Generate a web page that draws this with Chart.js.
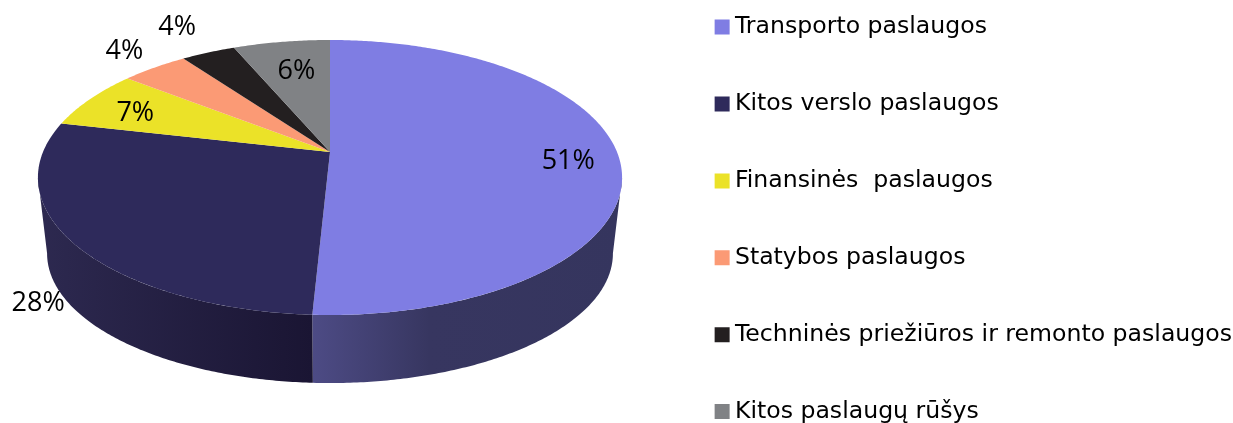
<!DOCTYPE html>
<html>
<head>
<meta charset="utf-8">
<script src="https://cdn.jsdelivr.net/npm/chart.js@4"></script>
<style>
html,body{margin:0;padding:0;background:#fff;overflow:hidden;width:1233px;height:423px}
/* canvas is taller than the window, the last legend row is cut off like in the original */
#myChart{position:absolute;left:0;top:-36px}
</style>
</head>
<body>
<canvas id="myChart" width="1233" height="540"></canvas>
<script>
const categories=['Transporto paslaugos','Kitos verslo paslaugos','Finansinės  paslaugos','Statybos paslaugos','Techninės priežiūros ir remonto paslaugos','Kitos paslaugų rūšys'];
const shares=[50.8,27.8,7.0,4.4,3.6,6.4];
const sliceColors=['#7f7de3','#2e2a5b','#ebe228','#fb9a75','#231f20','#808285'];
// shift of each percent label from the rim point of its slice
const labelShifts=[[-50,6],[-34,61],[45,14],[-30,-16],[-31,-25],[15,29]];

const shiftY=36;
// perspective of the disc: top face and bottom rim
const tilt=-0.1855;
const topFace={cx:330,width:287,a:104.58,b:152};
const bottomRim={cx:330,width:278,a:82.5,b:229.5};
// the side wall is only seen between these two angles
const wallStart=Math.asin(-tilt);
const wallEnd=Math.PI-wallStart;

function project(face,angle,r){
    const u=Math.cos(angle)*r, v=Math.sin(angle)*r;
    const d=1+tilt*v;
    return {x:face.cx+face.width*u/d, y:(face.a*v+face.b)/d+shiftY};
}

function rimPath(ctx,face,a0,a1,first){
    const steps=Math.max(2,Math.ceil(Math.abs(a1-a0)/0.01));
    for(let i=0;i<=steps;i++){
        const p=project(face,a0+(a1-a0)*i/steps,1);
        if(i===0&&first) ctx.moveTo(p.x,p.y); else ctx.lineTo(p.x,p.y);
    }
}

function wallFill(ctx,index){
    if(index===0){
        const g=ctx.createLinearGradient(312,0,622,0);
        g.addColorStop(0,'#4d4b85');
        g.addColorStop(0.38,'#373660');
        g.addColorStop(1,'#35355e');
        return g;
    }
    const g=ctx.createLinearGradient(38,0,312,0);
    g.addColorStop(0,'#2d2950');
    g.addColorStop(1,'#1a1533');
    return g;
}

const pie3d={
    id:'pie3d',
    afterLayout(chart){
        // nudge the legend, the library leaves a margin on the right
        chart.legend.left+=9;
        chart.legend.right+=9;
        chart.legend.top-=2;
        chart.legend.bottom-=2;
    },
    beforeDatasetDraw(chart,args){
        const ctx=chart.ctx;
        const arcs=args.meta.data;
        ctx.save();
        // side wall first
        arcs.forEach(function(arc,i){
            const a0=Math.max(arc.startAngle,wallStart);
            const a1=Math.min(arc.endAngle,wallEnd);
            if(a1<=a0) return;
            ctx.beginPath();
            rimPath(ctx,topFace,a0,a1,true);
            rimPath(ctx,bottomRim,a1,a0,false);
            ctx.closePath();
            ctx.fillStyle=wallFill(ctx,i);
            ctx.fill();
        });
        arcs.forEach(function(arc,i){
            const c=project(topFace,0,0);
            ctx.beginPath();
            ctx.moveTo(c.x,c.y);
            rimPath(ctx,topFace,arc.startAngle,arc.endAngle,false);
            ctx.closePath();
            ctx.fillStyle=sliceColors[i];
            ctx.fill();
        });
        ctx.restore();
        return false;
    },
    afterDatasetsDraw(chart){
        const ctx=chart.ctx;
        const arcs=chart.getDatasetMeta(0).data;
        ctx.save();
        ctx.font='27px "Open Sans"';
        ctx.fillStyle='#000';
        ctx.textAlign='center';
        ctx.textBaseline='middle';
        arcs.forEach(function(arc,i){
            const p=project(topFace,(arc.startAngle+arc.endAngle)/2,1);
            ctx.fillText(Math.round(shares[i])+'%',p.x+labelShifts[i][0],p.y+labelShifts[i][1]);
        });
        ctx.restore();
    }
};

const chart=new Chart(document.getElementById('myChart'),{
    type:'pie',
    data:{
        labels:categories,
        datasets:[{data:shares,backgroundColor:sliceColors,borderWidth:0}]
    },
    options:{
        responsive:false,
        animation:false,
        plugins:{
            tooltip:{enabled:false},
            legend:{
                position:'right',
                align:'start',
                labels:{
                    font:{family:'"DejaVu Sans"',size:23.6},
                    color:'#000',
                    usePointStyle:true,
                    pointStyle:'rect',
                    boxWidth:2,
                    boxHeight:15,
                    padding:53.3
                }
            }
        }
    },
    plugins:[pie3d]
});
</script>
</body>
</html>
